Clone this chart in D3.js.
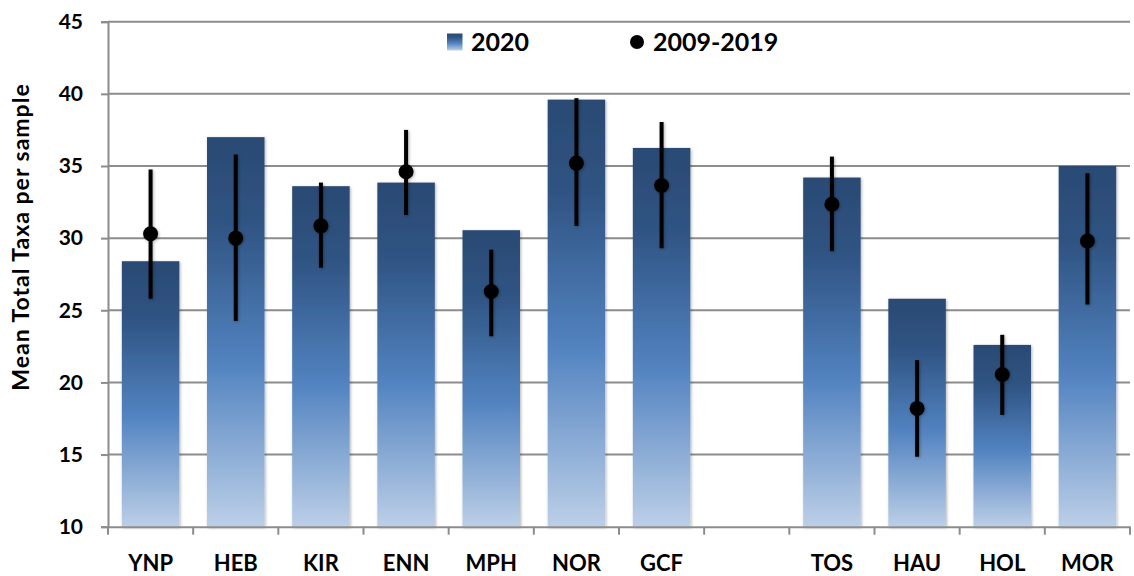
<!DOCTYPE html>
<html>
<head>
<meta charset="utf-8">
<script src="https://cdn.jsdelivr.net/npm/d3@7/dist/d3.min.js"></script>
<style>
  html, body { margin: 0; padding: 0; background: #ffffff; }
  svg { display: block; }
  text { font-family: Lato, "Open Sans", sans-serif; font-weight: bold; fill: #000; }
</style>
</head>
<body>
<svg id="chart" width="1134" height="576"></svg>
<script>
// ---- data ----
const categories = ["YNP", "HEB", "KIR", "ENN", "MPH", "NOR", "GCF", " ", "TOS", "HAU", "HOL", "MOR"];
const values2020 = [28.4, 37.0, 33.6, 33.85, 30.55, 39.6, 36.25, null, 34.2, 25.8, 22.6, 35.0];
const mean0919   = [30.3, 30.0, 30.85, 34.6, 26.3, 35.2, 33.65, null, 32.35, 18.2, 20.55, 29.8];
const errLow     = [25.8, 24.25, 27.95, 31.6, 23.2, 30.85, 29.3, null, 29.1, 14.85, 17.75, 25.4];
const errHigh    = [34.75, 35.8, 33.85, 37.5, 29.2, 39.7, 38.05, null, 35.65, 21.55, 23.3, 34.5];
const yTicks = [10, 15, 20, 25, 30, 35, 40, 45];
const seriesNames = ["2020", "2009-2019"];
const yTitle = "Mean Total Taxa per sample";

// ---- layout ----
const svg = d3.select("#chart");
const plot = { left: 108, right: 1130, top: 21.7, bottom: 526.7 };

const x = d3.scaleBand().domain(categories).range([plot.left, plot.right]).paddingInner(0.325).paddingOuter(0.1625);
const y = d3.scaleLinear().domain([10, 45]).range([plot.bottom, plot.top]);

const defs = svg.append("defs");
const grad = defs.append("linearGradient").attr("id", "barGrad")
  .attr("x1", 0).attr("y1", 0).attr("x2", 0).attr("y2", 1);
[[0, "#2b4a73"], [0.22, "#2f5483"], [0.58, "#5283c0"], [1, "#bccfe7"]].forEach(([o, c]) => {
  grad.append("stop").attr("offset", o).attr("stop-color", c);
});
const shadow = defs.append("filter").attr("id", "shadow")
  .attr("x", "-20%").attr("y", "-20%").attr("width", "140%").attr("height", "140%");
shadow.append("feDropShadow").attr("dx", 1).attr("dy", 1).attr("stdDeviation", 1.6)
  .attr("flood-color", "#000").attr("flood-opacity", 0.3);

// gridlines
svg.append("g").selectAll("line").data(yTicks.filter(d => d !== 10)).join("line")
  .attr("x1", plot.left).attr("x2", plot.right)
  .attr("y1", d => y(d)).attr("y2", d => y(d))
  .attr("stroke", "#8c8c8c").attr("stroke-width", 2);

// y axis
const yAxis = svg.append("g").attr("transform", `translate(${plot.left},0)`)
  .call(d3.axisLeft(y).tickValues(yTicks).tickSize(7).tickPadding(18));
yAxis.select(".domain").attr("stroke", "#8c8c8c").attr("stroke-width", 2);
yAxis.selectAll(".tick line").attr("stroke", "#8c8c8c").attr("stroke-width", 2);
yAxis.selectAll(".tick text").style("font-size", "21px").style("font-family", "Lato, sans-serif").style("font-weight", "bold").attr("fill", "#000");

// bars
const idx = d3.range(categories.length).filter(i => values2020[i] != null);
svg.append("g").selectAll("rect").data(idx).join("rect")
  .attr("x", i => x(categories[i]))
  .attr("width", x.bandwidth())
  .attr("y", i => y(values2020[i]))
  .attr("height", i => y(10) - y(values2020[i]))
  .attr("fill", "url(#barGrad)")
  .attr("filter", "url(#shadow)");

// x axis
const xAxis = svg.append("g").attr("transform", `translate(0,${plot.bottom})`)
  .call(d3.axisBottom(x).tickSize(0).tickPadding(29));
xAxis.select(".domain").attr("stroke", "#8c8c8c").attr("stroke-width", 2);
xAxis.selectAll(".tick text").style("font-size", "22px").style("font-family", "Lato, sans-serif").style("font-weight", "bold").attr("fill", "#000");
// category boundary ticks
const boundaries = categories.map(c => x(c) - x.step() * x.paddingInner() / 2).concat([plot.right]);
svg.append("g").selectAll("line").data(boundaries).join("line")
  .attr("x1", d => d).attr("x2", d => d)
  .attr("y1", plot.bottom).attr("y2", plot.bottom + 8)
  .attr("stroke", "#8c8c8c").attr("stroke-width", 2);

// error bars + points
const eg = svg.append("g").attr("filter", "url(#shadow)");
eg.selectAll("line").data(idx).join("line")
  .attr("x1", i => x(categories[i]) + x.bandwidth() / 2)
  .attr("x2", i => x(categories[i]) + x.bandwidth() / 2)
  .attr("y1", i => y(errLow[i])).attr("y2", i => y(errHigh[i]))
  .attr("stroke", "#000").attr("stroke-width", 4);
eg.selectAll("circle").data(idx).join("circle")
  .attr("cx", i => x(categories[i]) + x.bandwidth() / 2)
  .attr("cy", i => y(mean0919[i]))
  .attr("r", 7.5).attr("fill", "#000");

// legend
const lg = svg.append("g");
lg.append("rect").attr("x", 447).attr("y", 33.5).attr("width", 15.5).attr("height", 17).attr("fill", "url(#barGrad)");
lg.append("text").attr("x", 471).attr("y", 50.5).style("font-size", "25px").text(seriesNames[0]);
lg.append("circle").attr("cx", 637).attr("cy", 42).attr("r", 7).attr("fill", "#000");
lg.append("text").attr("x", 653).attr("y", 50.5).style("font-size", "25px").text(seriesNames[1]);

// y title
svg.append("text")
  .attr("transform", `translate(28.5,237) rotate(-90)`)
  .attr("text-anchor", "middle")
  .style("font-size", "23px")
  .style("letter-spacing", "1px")
  .text(yTitle);
</script>
</body>
</html>
